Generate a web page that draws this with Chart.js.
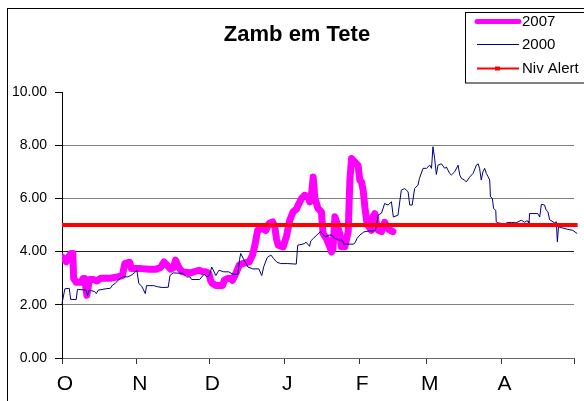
<!DOCTYPE html>
<html>
<head>
<meta charset="utf-8">
<title>Zamb em Tete</title>
<script src="https://cdn.jsdelivr.net/npm/chart.js@4.4.1/dist/chart.umd.min.js"></script>
<style>
    html, body { margin: 0; padding: 0; background: #fff; overflow: hidden; }
    canvas { display: block; }
</style>
</head>
<body>
<canvas id="grafica" width="584" height="401"></canvas>
<script>
"use strict";

/**
 * Eje de dias (0 = 1 de octubre) y etiquetas de meses
 */
const monthStarts = [0, 31, 61, 92, 123, 151, 182, 212];
const monthLabels = ["O", "N", "D", "J", "F", "M", "A", ""];
const yTicks = [0, 2, 4, 6, 8, 10];
const titulo = "Zamb em Tete";

/**
 * Serie 2007 (dia, nivel)
 */
const days2007 = [0, 1, 1.8, 2.5, 3.6, 4.5, 4.8, 5.9, 8, 8.7, 9.4, 10.3, 11.4, 13, 14.5, 16, 20, 23, 25, 26, 28, 28.7,
    32.8, 36, 39, 40.8, 42.2, 43.6, 45, 46.2, 47, 48.4, 49.8, 53.2, 56.7, 58, 59.5, 60.8, 61.6, 62.3, 63.7, 66.5,
    67.2, 68.5, 70, 70.6, 72, 73.4, 74.8, 77.5, 78.9, 80, 81, 83, 84.4, 85.8, 87.2, 88.1, 88.8, 89.5, 91.6, 93,
    94.3, 95.7, 97.1, 97.8, 99.2, 100.5, 101.9, 102.6, 103.3, 104, 104.7, 106, 107.4, 108.1, 109.5, 110.9, 111.6,
    112.2, 113, 113.7, 114.3, 115, 115.7, 117.1, 118.5, 119.2, 119.9, 121.2, 122.6, 123.3, 124, 124.7, 125.4,
    126.1, 126.7, 128.1, 128.8, 129.5, 130.3, 131, 132.3, 133.6, 135, 137];
const vals2007 = [3.8, 3.72, 3.62, 3.75, 3.93, 3.93, 3.0, 2.85, 2.85, 2.99, 2.99, 2.36, 2.95, 2.95, 2.9, 3.0, 3.0, 3.05, 3.1, 3.55, 3.6, 3.36,
    3.36, 3.34, 3.34, 3.4, 3.61, 3.48, 3.34, 3.4, 3.68, 3.4, 3.24, 3.2, 3.3, 3.25, 3.24, 3.18, 2.9, 2.8, 2.73, 2.73,
    2.92, 2.99, 2.99, 2.92, 3.18, 3.49, 3.55, 3.61, 3.87, 4.3, 4.8, 4.87, 4.8, 5.06, 5.12, 4.93, 4.49, 4.24, 4.18, 4.6,
    5.18, 5.5, 5.6, 5.75, 6.0, 6.12, 6.06, 5.87, 6.12, 6.8, 6.0, 5.62, 5.5, 4.68, 4.49, 4.18, 3.99,
    4.1, 5.31, 5.12, 4.87, 4.68, 4.18, 4.18, 4.75, 6.69, 7.5, 7.37, 7.24, 6.69, 6.62, 6.31, 5.68,
    5.18, 4.99, 4.8, 5.31, 5.43, 5.0, 4.8, 4.75, 5.1, 4.85, 4.75];

/**
 * Serie 2000 (dia, nivel)
 */
const days2000 = [0, 1.2, 3, 3.6, 5.9, 6.4, 10, 10.6, 11.2, 13.5, 14.2, 15, 18, 20, 21, 22, 23.5, 25, 27, 28.5, 30, 31,
    31.8, 33, 34.5, 35, 38, 39.5, 41.5, 44, 44.7, 46, 50, 51.6, 53, 53.7, 57, 58.8, 60, 61, 62, 63.7, 65, 67, 69,
    70.8, 72.8, 73.5, 74, 75, 77, 79, 81.5, 82.7, 83.6, 85, 86.5, 87.7, 89, 90.6, 93.5, 97, 97.6, 100.5, 101, 102.5,
    103, 104, 105.5, 107, 108.4, 109, 110.5, 111.7, 113, 115, 116, 116.7, 120.8, 121.5, 122.2, 123.3, 125, 127.4,
    129.5, 130.2, 130.9, 132.3, 133.6, 135, 136.4, 137.2, 139.1, 140.5, 141.9, 143.3, 144, 145, 146, 147.4, 148,
    149.5, 150.9, 152.3, 153, 153.6, 154.3, 155, 155.7, 157.1, 158.5, 159.2, 160.5, 161.2, 162.6, 164, 164.7,
    165.4, 166.7, 167.4, 168.8, 170.2, 171.6, 172.3, 172.9, 173.6, 174.3, 175, 175.7, 176.4, 177.1, 177.4, 178.2,
    178.7, 179.6, 179.8, 180.5, 182.5, 183.3, 184, 186, 188, 190.2, 191.6, 192.3, 193, 193.3, 193.6, 197, 197.8,
    198.5, 199.8, 200.5, 201.2, 201.9, 204, 204.7, 205.1, 205.6, 208.8, 211.5, 213.3];
const vals2000 = [2.05, 2.6, 2.62, 2.2, 2.2, 2.58, 2.55, 2.35, 2.55, 2.5, 2.42, 2.55, 2.6, 2.62, 2.75, 2.8, 2.95, 3.05, 3.05, 3.1, 3.2, 3.3,
    2.8, 2.7, 2.42, 2.72, 2.72, 2.68, 2.65, 2.66, 3.1, 3.2, 3.18, 3.05, 3.05, 2.95, 2.95, 3.15, 3.05, 3.1, 3.42, 3.1, 3.3, 3.24, 3.24,
    3.15, 3.15, 3.7, 3.93, 3.75, 3.42, 3.35, 3.35, 3.1, 3.45, 3.78, 3.87, 3.73, 3.6, 3.55, 3.55, 3.53, 4.24, 4.3, 4.36, 4.2,
    4.4, 4.49, 4.62, 4.75, 4.62, 4.55, 4.62, 4.62, 4.49, 4.43, 4.43, 4.28, 4.28, 4.36, 4.5, 4.62, 4.74, 4.78,
    4.78, 4.95, 5.37, 5.45, 5.81, 5.75, 5.87, 5.3, 5.37, 6.31, 6.37, 6.25, 5.75, 5.75, 6.37, 6.5, 6.75,
    7.13, 7.13, 7.25, 7.13, 7.94, 7.5, 6.9, 7.25, 7.3, 7.13, 7.18, 6.94, 6.88, 7.0, 7.25, 6.88,
    6.75, 6.69, 6.62, 6.8, 6.94, 7.25, 7.3, 7.13, 6.69, 7.0, 7.13, 6.94, 6.82, 6.69, 6.06, 6.0,
    5.62, 5.55, 5.12, 5.08, 5.05, 4.93, 5.08, 5.1, 5.08, 5.18, 5.1, 5.15, 5.15, 4.93, 5.43, 5.43, 5.3,
    5.78, 5.75, 5.55, 5.5, 5.2, 5.08, 5.12, 4.37, 4.93, 4.85, 4.8, 4.68];

/**
 * Nivel de alerta
 */
const alertDays = [0, 213.5];
const alertVals = [5, 5];

const FONT = "'Liberation Sans', Arial, sans-serif";

function toPoints(xs, ys) {
    return xs.map((x, i) => ({ x: x, y: ys[i] }));
}

/**
 * Marco exterior, titulo y leyenda con borde (como en Excel)
 */
const marcoPlugin = {
    id: "marco",
    beforeDraw(chart) {
        const ctx = chart.ctx;
        ctx.save();
        ctx.fillStyle = "#fff";
        ctx.fillRect(0, 0, chart.width, chart.height);
        ctx.strokeStyle = "#000";
        ctx.lineWidth = 1;
        ctx.strokeRect(7.5, 8.5, 640, 440);

        ctx.fillStyle = "#000";
        ctx.font = "bold 22px " + FONT;
        ctx.textAlign = "center";
        ctx.textBaseline = "middle";
        ctx.fillText(titulo, 297, 35);
        ctx.restore();
    },
    afterDraw(chart) {
        const ctx = chart.ctx;
        const rows = [21.5, 44.5, 68.5];
        const widths = [5, 1, 2];
        ctx.save();
        ctx.strokeStyle = "#000";
        ctx.lineWidth = 1;
        ctx.strokeRect(465.5, 12.5, 160, 70.5);

        chart.data.datasets.forEach((ds, i) => {
            const y = rows[i];
            ctx.strokeStyle = ds.borderColor;
            ctx.lineWidth = widths[i];
            ctx.lineCap = i === 0 ? "round" : "butt";
            ctx.beginPath();
            ctx.moveTo(477, y);
            ctx.lineTo(519, y);
            ctx.stroke();
            if (i === 2) {
                ctx.fillStyle = ds.borderColor;
                ctx.fillRect(495, y - 2, 5, 4);
            }
            ctx.fillStyle = "#000";
            ctx.font = "15px " + FONT;
            ctx.textBaseline = "middle";
            ctx.textAlign = "left";
            ctx.fillText(ds.label, 522, y + 0.5);
        });
        ctx.restore();
    },
};

const grafica = document.querySelector("#grafica");

new Chart(grafica, {
    type: "line",
    data: {
        datasets: [
            {
                label: "2007",
                data: toPoints(days2007, vals2007),
                borderColor: "#FF00FF",
                borderWidth: 7,
                borderJoinStyle: "round",
                borderCapStyle: "round",
                pointRadius: 0,
                tension: 0,
                order: 3,
            },
            {
                label: "2000",
                data: toPoints(days2000, vals2000),
                borderColor: "#000080",
                borderWidth: 1,
                pointRadius: 0,
                tension: 0,
                clip: false,
                order: 2,
            },
            {
                label: "Niv Alert",
                data: toPoints(alertDays, alertVals),
                borderColor: "#FF0000",
                borderWidth: 4,
                pointRadius: 0,
                tension: 0,
                clip: false,
                order: 1,
            },
        ],
    },
    options: {
        responsive: false,
        animation: false,
        layout: {
            padding: { left: 0, right: 10, top: 92, bottom: 0 },
        },
        plugins: {
            legend: { display: false },
            tooltip: { enabled: false },
            title: { display: false },
        },
        scales: {
            x: {
                type: "linear",
                min: 0,
                max: 212,
                afterFit: (scale) => {
                    scale.height = 43;
                },
                afterBuildTicks: (scale) => {
                    scale.ticks = monthStarts.map((v) => ({ value: v }));
                },
                ticks: {
                    autoSkip: false,
                    maxRotation: 0,
                    padding: 8,
                    labelOffset: 3,
                    color: "#000",
                    font: { family: FONT, size: 21 },
                    callback: (value) => {
                        const i = monthStarts.indexOf(value);
                        return i >= 0 ? monthLabels[i] : "";
                    },
                },
                grid: {
                    drawOnChartArea: false,
                    drawTicks: true,
                    tickLength: 6,
                    tickColor: "#333",
                },
                border: { color: "#666", width: 1 },
            },
            y: {
                min: 0,
                max: 10,
                afterFit: (scale) => {
                    scale.width = 62;
                },
                afterBuildTicks: (scale) => {
                    scale.ticks = yTicks.map((v) => ({ value: v }));
                },
                ticks: {
                    padding: 8,
                    color: "#000",
                    font: { family: FONT, size: 14 },
                    callback: (value) => Number(value).toFixed(2),
                },
                grid: {
                    color: (context) => {
                        const v = context.tick ? context.tick.value : null;
                        if (v === 10) return "rgba(0,0,0,0)";
                        if (v === 4) return "#222";
                        return "#808080";
                    },
                    tickLength: 7,
                    tickColor: "#000",
                },
                border: { color: "#000", width: 1 },
            },
        },
    },
    plugins: [marcoPlugin],
});
</script>
</body>
</html>
